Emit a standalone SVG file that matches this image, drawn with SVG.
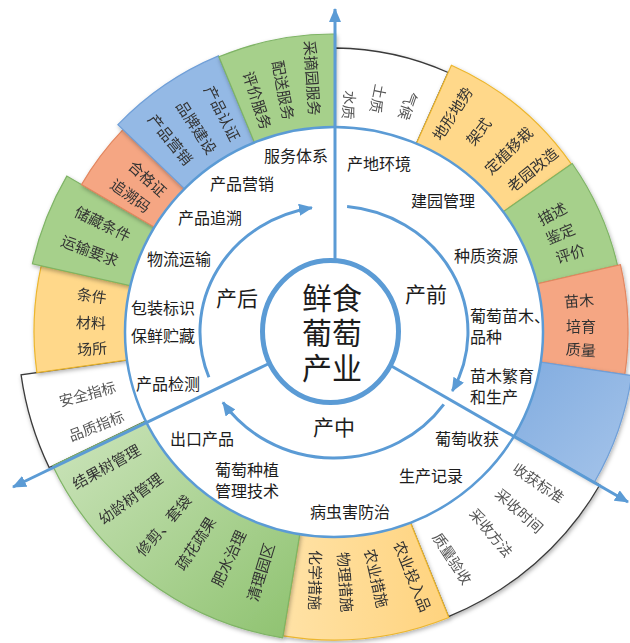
<svg xmlns="http://www.w3.org/2000/svg" width="630" height="643" viewBox="0 0 630 643">
<defs>
<style>
.t{font-family:"Noto Sans CJK SC","Noto Sans CJK JP",sans-serif;text-anchor:middle;dominant-baseline:central}
.o{font-size:15px;fill:#333}
.ow{font-size:14.5px;fill:#555}
.r{font-size:16px;fill:#1c1c1c}
.st{font-size:21px;fill:#1c1c1c}
.c{font-size:30px;fill:#1c1c1c}
.g{fill:#a6d08b;stroke:#7fb466;stroke-width:1.2}
.y{fill:#ffd88a;stroke:#ecb62e;stroke-width:1.2}
.or{fill:#f5a683;stroke:#e2865f;stroke-width:1.2}
.b{fill:#94b9e5;stroke:#6f9fd8;stroke-width:1.2}
.w{fill:#ffffff;stroke:#3a3a3a;stroke-width:1.3}
.ln{fill:none;stroke:#5b9bd5;stroke-width:3}
</style>
<linearGradient id="gbig" x1="0" y1="0" x2="1" y2="1">
<stop offset="0" stop-color="#cde5bd"/>
<stop offset="1" stop-color="#8ec26f"/>
</linearGradient>
<linearGradient id="bright" x1="0" y1="0" x2="1" y2="1">
<stop offset="0" stop-color="#80abdf"/>
<stop offset="1" stop-color="#a5c4ea"/>
</linearGradient>
<linearGradient id="ybot" x1="0" y1="0" x2="1" y2="0">
<stop offset="0" stop-color="#ffe2a6"/>
<stop offset="1" stop-color="#ffd37e"/>
</linearGradient>
<filter id="sh" x="-10%" y="-10%" width="120%" height="120%">
<feDropShadow dx="1" dy="2" stdDeviation="2" flood-color="#000" flood-opacity="0.3"/>
</filter>
<marker id="ah" viewBox="0 0 14 12" refX="13" refY="6" markerWidth="14" markerHeight="12" markerUnits="userSpaceOnUse" orient="auto">
<path d="M0,0 L14,6 L0,12 Z" fill="#5b9bd5"/>
</marker>
</defs>
<rect width="630" height="643" fill="#ffffff"/>

<g id="seg-white-top" filter="url(#sh)">
<path class="w" d="M335.5,48.0 A283 283 0 0 1 448.1,72.5 L414.3,148.3 A200 200 0 0 0 334.7,131.0 Z"/>
<text class="t ow" transform="translate(350,105) rotate(95)">水质</text>
<text class="t ow" transform="translate(379,99) rotate(101)">土质</text>
<text class="t ow" transform="translate(409,106) rotate(109)">气候</text>
</g>
<g id="seg-white-right" filter="url(#sh)">
<path class="w" d="M599.7,485.0 A308 308 0 0 1 448.4,616.6 L407.9,516.4 A200 200 0 0 0 506.2,431.0 Z"/>
<text class="t ow" transform="translate(539,482) rotate(34)">收获标准</text>
<text class="t ow" transform="translate(520,510) rotate(42)">采收时间</text>
<text class="t ow" transform="translate(492,532) rotate(50)">采收方法</text>
<text class="t ow" transform="translate(453,558) rotate(57)">质量验收</text>
</g>
<g id="seg-white-left" filter="url(#sh)">
<path class="w" d="M49.2,467.6 A315 315 0 0 1 21.1,374.8 L135.0,358.8 A200 200 0 0 0 152.8,417.7 Z"/>
<text class="t ow" transform="translate(87,393) rotate(-15)">安全指标</text>
<text class="t ow" transform="translate(96,425) rotate(-21)">品质指标</text>
</g>

<g id="seg-yellow-tr" filter="url(#sh)">
<path class="y" d="M451.4,65.2 A291 291 0 0 1 571.4,164.1 L496.8,216.3 A200 200 0 0 0 414.3,148.3 Z"/>
<text class="t o" transform="translate(452,113) rotate(-57)">地形地势</text>
<text class="t o" transform="translate(478,131) rotate(-52)">架式</text>
<text class="t o" transform="translate(508,150) rotate(-44)">定植移栽</text>
<text class="t o" transform="translate(532,169) rotate(-39)">老园改造</text>
</g>
<g id="seg-green-right" filter="url(#sh)">
<path class="g" d="M572.2,163.5 A292 292 0 0 1 617.5,265.3 L527.9,286.0 A200 200 0 0 0 496.8,216.3 Z"/>
<text class="t o" transform="translate(552,213) rotate(-28)">描述</text>
<text class="t o" transform="translate(560,233) rotate(-23)">鉴定</text>
<text class="t o" transform="translate(570,253) rotate(-18)">评价</text>
</g>
<g id="seg-orange-right" filter="url(#sh)">
<path class="or" d="M620.4,264.6 A295 295 0 0 1 624.8,374.6 L530.8,360.6 A200 200 0 0 0 527.9,286.0 Z"/>
<text class="t o" transform="translate(579,300) rotate(-4)">苗木</text>
<text class="t o" transform="translate(581,325)">培育</text>
<text class="t o" transform="translate(581,349) rotate(4)">质量</text>
</g>
<g id="seg-blue-right" filter="url(#sh)">
<path class="b" style="fill:url(#bright)" d="M631.7,375.6 A302 302 0 0 1 594.5,482.0 L506.2,431.0 A200 200 0 0 0 530.8,360.6 Z"/>
</g>
<g id="seg-yellow-bottom" filter="url(#sh)">
<path class="y" style="fill:url(#ybot)" d="M448.8,617.5 A309 309 0 0 1 283.1,635.9 L300.7,528.4 A200 200 0 0 0 407.9,516.4 Z"/>
<text class="t o" transform="translate(413,576) rotate(68)">农业投入品</text>
<text class="t o" transform="translate(377,578) rotate(77)">农业措施</text>
<text class="t o" transform="translate(346,582) rotate(86)">物理措施</text>
<text class="t o" transform="translate(316,580) rotate(91)">化学措施</text>
</g>
<g id="seg-green-bottom" filter="url(#sh)">
<path class="g" style="fill:url(#gbig)" d="M282.7,637.9 A311 311 0 0 1 52.8,465.9 L152.8,417.7 A200 200 0 0 0 300.7,528.4 Z"/>
<text class="t o" transform="translate(106,466) rotate(-29)">结果树管理</text>
<text class="t o" transform="translate(130,498) rotate(-36)">幼龄树管理</text>
<text class="t o" transform="translate(163,525) rotate(-49)">修剪、套袋</text>
<text class="t o" transform="translate(195,543) rotate(-57)">疏花疏果</text>
<text class="t o" transform="translate(228,558) rotate(-65)">肥水治理</text>
<text class="t o" transform="translate(260,572) rotate(-73)">清理园区</text>
</g>
<g id="seg-yellow-left" filter="url(#sh)">
<path class="y" d="M36.9,372.6 A299 299 0 0 1 41.2,265.8 L137.8,287.4 A200 200 0 0 0 135.0,358.8 Z"/>
<text class="t o" transform="translate(92,295) rotate(8)">条件</text>
<text class="t o" transform="translate(91,322) rotate(2)">材料</text>
<text class="t o" transform="translate(92,348) rotate(-4)">场所</text>
</g>
<g id="seg-green-left" filter="url(#sh)">
<path class="g" d="M32.4,263.8 A308 308 0 0 1 66.8,176.1 L160.1,230.4 A200 200 0 0 0 137.8,287.4 Z"/>
<text class="t o" transform="translate(103,223) rotate(26)">储藏条件</text>
<text class="t o" transform="translate(90,250) rotate(21)">运输要求</text>
</g>
<g id="seg-orange-left" filter="url(#sh)">
<path class="or" d="M81.5,184.6 A291 291 0 0 1 123.0,129.6 L188.6,192.6 A200 200 0 0 0 160.1,230.4 Z"/>
<text class="t o" transform="translate(148,178) rotate(42)">合格证</text>
<text class="t o" transform="translate(131,195) rotate(36)">追溯码</text>
</g>
<g id="seg-blue-tl" filter="url(#sh)">
<path class="b" d="M117.9,124.7 A298 298 0 0 1 218.5,55.9 L256.1,146.4 A200 200 0 0 0 188.6,192.6 Z"/>
<text class="t o" transform="translate(223,113) rotate(63)">产品认证</text>
<text class="t o" transform="translate(197,127) rotate(57)">品牌建设</text>
<text class="t o" transform="translate(171,139) rotate(51)">产品营销</text>
</g>
<g id="seg-green-top" filter="url(#sh)">
<path class="g" d="M218.9,56.8 A297 297 0 0 1 335.6,34.0 L334.7,131.0 A200 200 0 0 0 256.1,146.4 Z"/>
<text class="t o" transform="translate(313,78) rotate(86)">采摘园服务</text>
<text class="t o" transform="translate(284,90) rotate(79)">配送服务</text>
<text class="t o" transform="translate(258,100) rotate(72)">评价服务</text>
</g>

<g id="ring">
<ellipse cx="334" cy="332" rx="209" ry="205" fill="#ffffff" stroke="#5b9bd5" stroke-width="2.5"/>
<text class="t r" x="296" y="155">服务体系</text>
<text class="t r" x="242" y="183">产品营销</text>
<text class="t r" x="210" y="217">产品追溯</text>
<text class="t r" x="179" y="258">物流运输</text>
<text class="t r" x="163" y="307">包装标识</text>
<text class="t r" x="163" y="335">保鲜贮藏</text>
<text class="t r" x="168" y="383">产品检测</text>
<text class="t r" x="202" y="438">出口产品</text>
<text class="t r" x="247" y="469">葡萄种植</text>
<text class="t r" x="247" y="490">管理技术</text>
<text class="t r" x="350" y="511">病虫害防治</text>
<text class="t r" x="431" y="475">生产记录</text>
<text class="t r" x="467" y="438">葡萄收获</text>
<text class="t r" x="470" y="375" style="text-anchor:start">苗木繁育</text>
<text class="t r" x="470" y="396" style="text-anchor:start">和生产</text>
<text class="t r" x="470" y="315" style="text-anchor:start">葡萄苗木、</text>
<text class="t r" x="470" y="336" style="text-anchor:start">品种</text>
<text class="t r" x="486" y="255">种质资源</text>
<text class="t r" x="443" y="200">建园管理</text>
<text class="t r" x="379" y="163">产地环境</text>
</g>

<g id="stage-labels">
<text class="t st" x="426" y="293">产前</text>
<text class="t st" x="237" y="297">产后</text>
<text class="t st" x="334" y="426">产中</text>
</g>

<g id="connectors">
<path class="ln" marker-end="url(#ah)" d="M347.1,206.6 A134 126 0 0 1 452.3,391.1"/>
<path class="ln" marker-end="url(#ah)" d="M443.8,404.3 A134 126 0 0 1 222.9,402.4"/>
<path class="ln" marker-end="url(#ah)" d="M208.9,377.2 A134 126 0 0 1 311.9,207.7"/>
<line class="ln" marker-end="url(#ah)" x1="335" y1="262" x2="335" y2="9"/>
<line class="ln" marker-end="url(#ah)" x1="390.5" y1="365.5" x2="628" y2="502"/>
<line class="ln" marker-end="url(#ah)" x1="268" y1="364" x2="13" y2="487"/>
</g>

<g id="center">
<ellipse cx="330.5" cy="331.5" rx="68" ry="71" fill="#ffffff" stroke="#5b9bd5" stroke-width="5"/>
<text class="t c" x="332" y="296">鲜食</text>
<text class="t c" x="332" y="331">葡萄</text>
<text class="t c" x="332" y="366">产业</text>
</g>
</svg>
